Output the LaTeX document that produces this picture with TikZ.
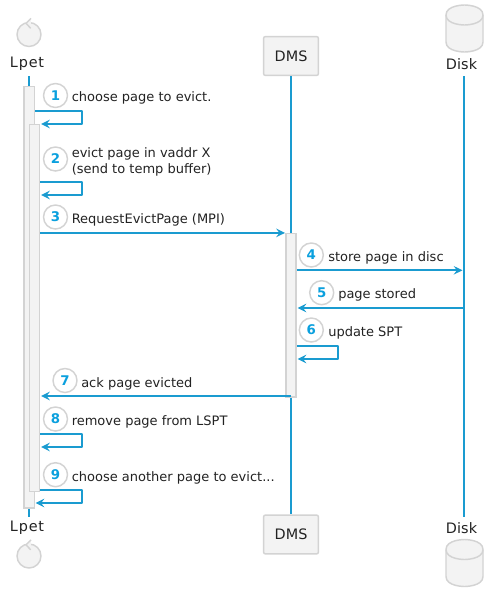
\documentclass[tikz,border=0pt]{standalone}
\usepackage{fontspec}
\usetikzlibrary{arrows.meta}
\setmainfont{DejaVu Sans}
\newfontfamily\plabel[LetterSpace=1]{DejaVu Sans}
\newfontfamily\plabelwide[LetterSpace=6]{DejaVu Sans}
\definecolor{flow}{HTML}{1A9BD0}
\definecolor{numblue}{HTML}{0AA0DE}
\definecolor{edge}{HTML}{D3D3D3}
\definecolor{boxfill}{HTML}{F3F3F3}
\definecolor{ink}{HTML}{222222}
\tikzset{
  px/.style={x=0.75pt,y=-0.75pt},
  life/.style={draw=flow,line width=1.5pt},
  msg/.style={draw=flow,line width=1.4pt,line join=round,-{Stealth[length=6.6pt,width=6.4pt,inset=2.4pt]}},
  activation/.style={draw=edge,fill=boxfill,line width=1.1pt,inner sep=0pt,minimum width=7.7pt,anchor=north},
  participant/.style={draw=edge,fill=boxfill,line width=1.1pt,rounded corners=1.5pt,minimum width=41.2pt,minimum height=29.2pt,inner sep=0pt,text=ink,font=\plabel\fontsize{10.8}{12}\selectfont},
  plab/.style={inner sep=0pt,text=ink,font=\plabel\fontsize{10.8}{12}\selectfont},
  plabw/.style={inner sep=0pt,text=ink,font=\plabelwide\fontsize{10.8}{12}\selectfont},
  numdot/.style={circle,draw=edge,fill=white,line width=1.1pt,minimum size=18pt,inner sep=0pt,text=numblue,font=\fontsize{10}{12}\selectfont\bfseries},
  msglab/.style={inner sep=0pt,anchor=base west,align=left,text=ink,font=\fontsize{9.75}{11.7}\selectfont},
  actorshape/.style={draw=edge,fill=boxfill,line width=1.1pt,line join=round},
}
\newcommand{\actorat}[3]{%
  \node[actorshape,circle,minimum size=18pt,inner sep=0pt] (#3) at (#1,#2) {};
  \draw[actorshape] (#1+2,#2-16.2) -- (#1-3,#2-11.2) -- (#1+1.7,#2-6.2);
}
\newcommand{\cylinderat}[2]{%
  \draw[actorshape] (#1,#2+10) .. controls (#1,#2) and (#1+18.5,#2) .. (#1+18.5,#2)
    .. controls (#1+18.5,#2) and (#1+37,#2) .. (#1+37,#2+10)
    -- (#1+37,#2+37) .. controls (#1+37,#2+47) and (#1+18.5,#2+47) .. (#1+18.5,#2+47)
    .. controls (#1+18.5,#2+47) and (#1,#2+47) .. (#1,#2+37) -- cycle;
  \draw[actorshape,fill=none] (#1,#2+10) .. controls (#1,#2+20) and (#1+18.5,#2+20) .. (#1+18.5,#2+20)
    .. controls (#1+18.5,#2+20) and (#1+37,#2+20) .. (#1+37,#2+10);
}
\begin{document}
\begin{tikzpicture}[px]
\useasboundingbox (0,0) rectangle (500,603);
% lifeline ends
\coordinate (lpetT) at (29,76);
\coordinate (lpetB) at (29,516.5);
\coordinate (diskT) at (464,76);
\coordinate (diskB) at (464,516.5);
% participants
\node[participant] (dmsT) at (291,56) {DMS};
\node[participant] (dmsB) at (291,534.5) {DMS};
\draw[life] (lpetT) -- (lpetB);
\draw[life] (dmsT.south) -- (dmsB.north);
\draw[life] (diskT) -- (diskB);
\actorat{29}{34.5}{lpetIconT}
\actorat{29}{556}{lpetIconB}
\node[plabw] (lpetLabT) at (27,64) {Lpet};
\node[plabw] (lpetLabB) at (27,528) {Lpet};
\cylinderat{446}{5}
\cylinderat{446}{539.5}
\node[plab] (diskLabT) at (461.5,64) {Disk};
\node[plab] (diskLabB) at (461.5,528) {Disk};
% activations
\node[activation,minimum height=315.8pt] (actA) at (29.2,86) {};
\node[activation,minimum height=275.2pt] (actB) at (34.5,124) {};
\node[activation,minimum height=122.6pt] (actC) at (291,232.7) {};
% points on the activations
\coordinate (m1a) at (actA.east |- 0,110.7);
\coordinate (m1b) at (82,110.7);
\coordinate (m1c) at (82,124);
\coordinate (m1d) at (41,124);
\coordinate (m2a) at (actB.east |- 0,181.7);
\coordinate (m2b) at (82,181.7);
\coordinate (m2c) at (82,195);
\coordinate (m2d) at (41,195);
\coordinate (m3a) at (actB.east |- 0,232.9);
\coordinate (m3b) at (285,232.9);
\coordinate (m4a) at (actC.east |- 0,270.3);
\coordinate (m4b) at (462.5,270.3);
\coordinate (m5a) at (464,308);
\coordinate (m5b) at (297.5,308);
\coordinate (m6a) at (actC.east |- 0,345.7);
\coordinate (m6b) at (338,345.7);
\coordinate (m6c) at (338,359);
\coordinate (m6d) at (297.5,359);
\coordinate (m7a) at (291,396);
\coordinate (m7b) at (41,396);
\coordinate (m8a) at (actB.east |- 0,434);
\coordinate (m8b) at (82,434);
\coordinate (m8c) at (82,447);
\coordinate (m8d) at (41,447);
\coordinate (m9a) at (actB.east |- 0,490);
\coordinate (m9b) at (82,490);
\coordinate (m9c) at (82,503);
\coordinate (m9d) at (35.5,503);
% messages
\draw[msg] (m1a) -- (m1b) -- (m1c) -- (m1d);
\draw[msg] (m2a) -- (m2b) -- (m2c) -- (m2d);
\draw[msg] (m3a) -- (m3b);
\draw[msg] (m4a) -- (m4b);
\draw[msg] (m5a) -- (m5b);
\draw[msg] (m6a) -- (m6b) -- (m6c) -- (m6d);
\draw[msg] (m7a) -- (m7b);
\draw[msg] (m8a) -- (m8b) -- (m8c) -- (m8d);
\draw[msg] (m9a) -- (m9b) -- (m9c) -- (m9d);
% numbers
\node[numdot] (n1) at (55.5,95.5) {1};
\node[numdot] (n2) at (55.5,159) {2};
\node[numdot] (n3) at (55.5,217) {3};
\node[numdot] (n4) at (311.3,255) {4};
\node[numdot] (n5) at (321.7,292.7) {5};
\node[numdot] (n6) at (311.3,330) {6};
\node[numdot] (n7) at (65,380.5) {7};
\node[numdot] (n8) at (55.5,419) {8};
\node[numdot] (n9) at (55.5,474.7) {9};
% labels
\node[msglab] (t1) at (71.5,101) {choose page to evict.};
\node[msglab] (t2) at (71.5,173) {evict page in vaddr X\\(send to temp buffer)};
\node[msglab] (t3) at (71.5,223) {RequestEvictPage (MPI)};
\node[msglab] (t4) at (328,261) {store page in disc};
\node[msglab] (t5) at (338,298.5) {page stored};
\node[msglab] (t6) at (328,336) {update SPT};
\node[msglab] (t7) at (81,387) {ack page evicted};
\node[msglab] (t8) at (71.5,425) {remove page from LSPT};
\node[msglab] (t9) at (71.5,481) {choose another page to evict...};
\end{tikzpicture}
\end{document}
